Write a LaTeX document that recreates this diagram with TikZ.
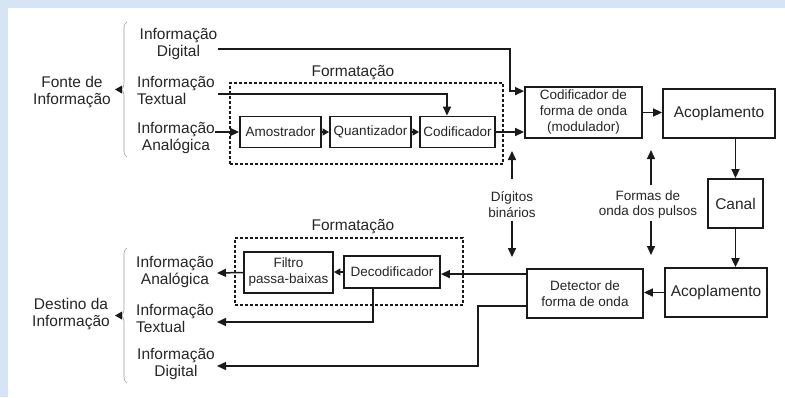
\documentclass[tikz,border=0pt]{standalone}
\usepackage{fontspec}
\setmainfont{Liberation Sans}
\usetikzlibrary{arrows.meta,calc,decorations.pathreplacing}
\definecolor{frame}{HTML}{D6E4F6}
\definecolor{ink}{HTML}{1A1A1A}
\definecolor{txt}{HTML}{262626}
\begin{document}
\begin{tikzpicture}[x=1pt,y=-1pt,
  box/.style={draw=ink,line width=1.8pt,inner sep=0pt,align=center,text=txt,
    font=\fontsize{13.5}{16}\selectfont},
  bigbox/.style={box,font=\fontsize{15.5}{17}\selectfont},
  lbl/.style={inner sep=0pt,align=center,text=txt,font=\fontsize{15.5}{17}\selectfont},
  note/.style={inner sep=0pt,align=center,text=txt,font=\fontsize{13.5}{15.5}\selectfont},
  fmt/.style={draw=ink,line width=1.5pt,dash pattern=on 3pt off 2pt,inner sep=0pt},
  arr/.style={draw=ink,line width=1.5pt,-{Triangle[length=9pt,width=8pt]}},
  sarr/.style={draw=ink,line width=1.5pt,-{Triangle[length=6.5pt,width=7pt]}},
  brc/.style={draw=gray!75,line width=0.6pt,decorate,decoration={brace,amplitude=6pt}}]

% frame
\useasboundingbox (0,0) rectangle (785,397);
\fill[frame] (0,0) rectangle (785,397);
\fill[white] (8,8) rectangle (785,397);

% ---- source side ----
\node[lbl] (fonte) at (72,92) {Fonte de\\Informação};
\draw[brc] (127,157) -- (127,22);
\fill[ink] (115,89.5) -- (122,85.5) -- (122,93.5) -- cycle;
\node[lbl] (idig) at (178.5,43.5) {Informação\\Digital};
\node[lbl,align=left] (itex) at (176,90) {Informação\\Textual};
\node[lbl] (iana) at (176,138) {Informação\\Analógica};

\node[lbl] (fmt1) at (353,73) {Formatação};
\node[fmt,minimum width=273pt,minimum height=81pt] (fbox1) at (366.5,123.5) {};

\node[box,minimum width=81pt,minimum height=31pt] (amo) at (280.5,132) {Amostrador};
\node[box,minimum width=81pt,minimum height=31pt] (qua) at (370.5,132) {Quantizador};
\node[box,minimum width=75pt,minimum height=31pt] (cod) at (457.5,132) {Codificador};
\node[box,minimum width=117pt,minimum height=51pt] (mod) at (583.5,112.5)
  {Codificador de\\forma de onda\\(modulador)};
\node[bigbox,minimum width=112pt,minimum height=49pt] (aco1) at (719,113.5) {Acoplamento};
\node[bigbox,minimum width=55pt,minimum height=49pt] (canal) at (735.5,203.5) {Canal};

% ---- destination side ----
\node[lbl] (destino) at (71,314) {Destino da\\Informação};
\draw[brc] (127,383) -- (127,248);
\fill[ink] (115,315.5) -- (122,311.5) -- (122,319.5) -- cycle;
\node[lbl] (bana) at (175,271.5) {Informação\\Analógica};
\node[lbl,align=left] (btex) at (175,318.5) {Informação\\Textual};
\node[lbl] (bdig) at (176,364) {Informação\\Digital};

\node[lbl] (fmt2) at (353,227) {Formatação};
\node[fmt,minimum width=228pt,minimum height=67pt] (fbox2) at (349,271.5) {};

\node[bigbox,minimum width=102pt,minimum height=49pt] (aco2) at (716,292.5) {Acoplamento};
\node[box,minimum width=116pt,minimum height=49pt] (det) at (585,293.5) {Detector de\\forma de onda};
\node[box,minimum width=96pt,minimum height=32pt] (dec) at (392,272) {Decodificador};
\node[box,minimum width=89pt,minimum height=41pt] (fil) at (288.5,272.5) {Filtro\\passa-baixas};

% ---- middle notes ----
\node[note] (dbin) at (512,204.5) {Dígitos\\binários};
\node[note] (fpul) at (648,204.5) {Formas de\\onda dos pulsos};

% free ends of connectors
\coordinate (dig0) at (218,49);
\coordinate (tex0) at (218,94);
\coordinate (ana0) at (215,132);
\coordinate (ana1) at (217,273);
\coordinate (tex1) at (217,322);
\coordinate (dig1) at (217,366);
\coordinate (dk) at (478,366);
\coordinate (dbu0) at (512,179);
\coordinate (dbu1) at (512,151);
\coordinate (dbd0) at (512,221);
\coordinate (dbd1) at (512,257);
\coordinate (fpu0) at (651,185);
\coordinate (fpu1) at (651,150);
\coordinate (fpd0) at (651,221);
\coordinate (fpd1) at (651,255);

% ---- transmit chain ----
\draw[arr] (ana0) -- (amo.west);
\draw[sarr] (amo.east) -- (qua.west);
\draw[sarr] (qua.east) -- (cod.west);
\draw[arr] (tex0) -| ([xshift=-10.5pt]cod.north);
\draw[arr] (dig0) -| ([xshift=-14pt,yshift=-5pt]mod.north west) -- ([yshift=-5pt]mod.north west);
\draw[arr] (cod.east) -- (cod.east -| mod.west);
\draw[arr] (mod.east) -- (mod.east -| aco1.west);
\draw[arr] (canal.north |- aco1.south) -- (canal.north);
\draw[arr,line width=1.9pt] (canal.south) -- (canal.south |- aco2.north);

% ---- receive chain ----
\draw[arr] (aco2.west) -- (aco2.west -| det.east);
\draw[arr] ([yshift=-6pt]det.north west) -- ([yshift=-6pt]det.north west -| dec.east);
\draw[sarr] (dec.west) -- (dec.west -| fil.east);
\draw[arr] (fil.west) -- (ana1);
\draw[arr] ([xshift=-19pt]dec.south) |- (tex1);
\draw[arr] ([yshift=13pt]det.south west) -| (dk) -- (dig1);

% ---- notes arrows ----
\draw[arr] (dbu0) -- (dbu1);
\draw[arr] (dbd0) -- (dbd1);
\draw[arr] (fpu0) -- (fpu1);
\draw[arr] (fpd0) -- (fpd1);
\end{tikzpicture}
\end{document}
